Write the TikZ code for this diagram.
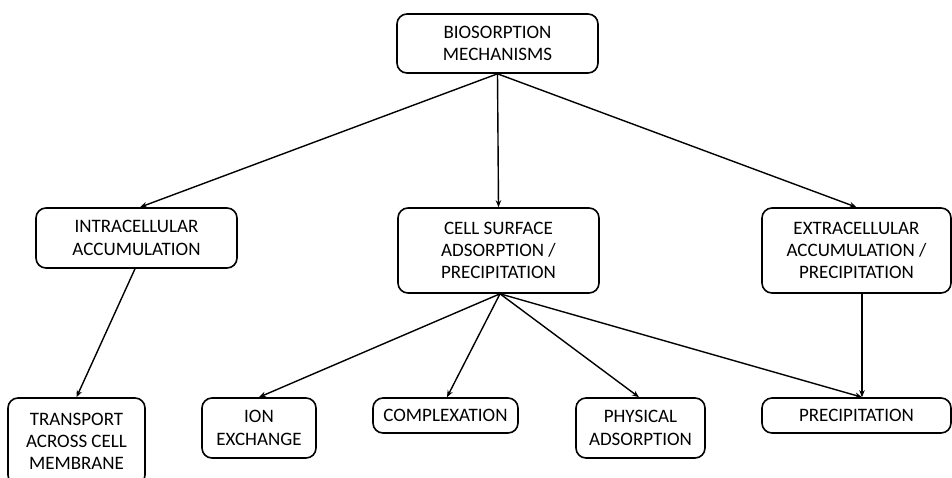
\documentclass[tikz,border=0pt]{standalone}
\usepackage{fontspec}
\setmainfont{Carlito}
\usetikzlibrary{arrows.meta}
\begin{document}
\begin{tikzpicture}[x=1pt,y=-1pt,
  box/.style={draw=black, line width=1.6pt, rounded corners=10pt, align=center,
    inner sep=0pt, font=\fontsize{19}{22.3}\selectfont, text=black},
  conn/.style={line width=1.4pt, -{Stealth[length=7pt,width=5.5pt]}}]
\clip (0,0) rectangle (952,477);
\useasboundingbox (0,0) rectangle (952,477);
\node[box, minimum width=201pt, minimum height=59pt] (top) at (497.5,43.5) {BIOSORPTION\\MECHANISMS};
\node[box, minimum width=201pt, minimum height=60pt] (intra) at (136.5,238) {INTRACELLULAR\\ACCUMULATION};
\node[box, minimum width=201pt, minimum height=85pt] (cell) at (498.5,250.5) {CELL SURFACE\\ADSORPTION /\\PRECIPITATION};
\node[box, minimum width=189pt, minimum height=85pt] (extra) at (856.5,250.5) {EXTRACELLULAR\\ACCUMULATION /\\PRECIPITATION};
\node[box, minimum width=137pt, minimum height=87pt] (trans) at (76.5,441.5) {TRANSPORT\\ACROSS CELL\\MEMBRANE};
\node[box, minimum width=114pt, minimum height=60pt] (ion) at (259,428) {ION\\EXCHANGE};
\node[box, minimum width=145pt, minimum height=35pt] (comp) at (445.5,415.5) {COMPLEXATION};
\node[box, minimum width=129pt, minimum height=60pt] (phys) at (640.5,428) {PHYSICAL\\ADSORPTION};
\node[box, minimum width=189pt, minimum height=35pt] (prec) at (856.5,415.5) {PRECIPITATION};
\draw[conn] (top.south) -- ([xshift=3.5pt]intra.north);
\draw[conn] (top.south) -- (cell.north);
\draw[conn] (top.south) -- (extra.north);
\draw[conn] ([xshift=-1.5pt]intra.south) -- (trans.north);
\draw[conn] ([xshift=1.5pt]cell.south) -- (ion.north);
\draw[conn] ([xshift=1.5pt]cell.south) -- ([xshift=1.5pt]comp.north);
\draw[conn] ([xshift=1.5pt]cell.south) -- ([xshift=-1.5pt]phys.north);
\draw[conn] ([xshift=1.5pt]cell.south) -- ([xshift=5.5pt]prec.north);
\draw[conn] ([xshift=5.5pt]extra.south) -- ([xshift=5.5pt]prec.north);
\end{tikzpicture}
\end{document}
